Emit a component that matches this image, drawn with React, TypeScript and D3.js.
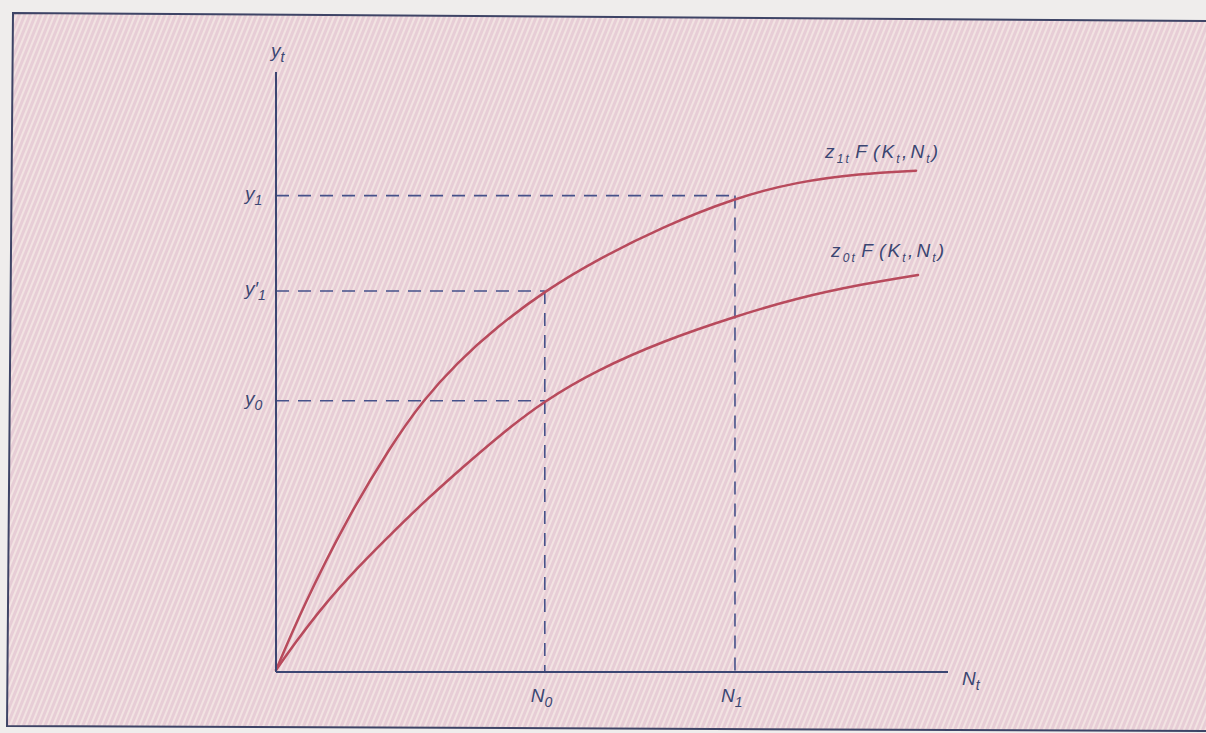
import React from "react";
import * as d3 from "d3";

// Output y_t against labour N_t, in arbitrary units
const upperCurve: [number, number][] = [
  [0, 0.33], [4.02, 10.92], [10.57, 25.58], [16.96, 37.48], [21.88, 45.3],
  [26.93, 51.53], [32.89, 57.53], [40.03, 63.53], [47.77, 68.72], [57.59, 74.22],
  [68.3, 79.02], [77.53, 81.7], [86.9, 83.07], [95.24, 83.55],
];
const lowerCurve: [number, number][] = [
  [0, 0.33], [2.83, 4.83], [7.0, 11.0], [12.05, 17.33], [16.96, 22.83], [22.47, 28.83],
  [27.83, 34.17], [33.33, 39.5], [39.88, 45.17], [47.77, 50.33], [57.59, 55.17],
  [68.3, 59.25], [77.53, 62.33], [87.35, 64.67], [95.54, 66.17],
];

// Reference levels marked on the axes
const N0 = 40;
const N1 = 68.3;
const Y0 = 45.2;
const Y1P = 63.5;
const Y1 = 79.4;

const W = 1206;
const H = 733;

const x = d3.scaleLinear().domain([0, 100]).range([276, 948]);
const y = d3.scaleLinear().domain([0, 100]).range([672, 72]);

const line = d3
  .line<[number, number]>()
  .x((d) => x(d[0]))
  .y((d) => y(d[1]))
  .curve(d3.curveBasis);

const INK = "#3b4672";
const CURVE = "#b84a5c";
const DASH = "#46528a";
const FONT = "'Liberation Sans', Arial, sans-serif";

function Sym({ base, sub, x: tx, y: ty }: { base: string; sub?: string; x: number; y: number }) {
  return (
    <text x={tx} y={ty} fontFamily={FONT} fontStyle="italic" fontSize={19} fill={INK}>
      {base}
      {sub ? (
        <tspan dy={5} fontSize={14}>{sub}</tspan>
      ) : null}
    </text>
  );
}

function FuncLabel({ tx, ty, idx }: { tx: number; ty: number; idx: string }) {
  return (
    <text x={tx} y={ty} fontFamily={FONT} fontStyle="italic" fontSize={19} fill={INK} letterSpacing={2.2}>
      z<tspan dy={5} fontSize={12}>{idx}t</tspan>
      <tspan dy={-5} dx={4}>F</tspan>
      <tspan dx={4}>(K</tspan>
      <tspan dy={5} fontSize={12}>t</tspan>
      <tspan dy={-5}>,</tspan>
      <tspan dx={1}>N</tspan>
      <tspan dy={5} fontSize={12}>t</tspan>
      <tspan dy={-5}>)</tspan>
    </text>
  );
}

export default function App() {
  const yLevels = [
    { v: Y1, to: N1, base: "y", sub: "1" },
    { v: Y1P, to: N0, base: "y\u2032", sub: "1" },
    { v: Y0, to: N0, base: "y", sub: "0" },
  ];
  const xLevels = [
    { v: N0, from: Y1P, sub: "0" },
    { v: N1, from: Y1, sub: "1" },
  ];
  return (
    <svg width={W} height={H} style={{ position: "absolute", left: 0, top: 0, display: "block" }}>
      <defs>
        <pattern id="weave" width={5} height={10} patternUnits="userSpaceOnUse" patternTransform="rotate(22)">
          <rect width={5} height={10} fill="#e7cdd6" />
          <rect width={2} height={10} fill="#f2e3e2" />
        </pattern>
      </defs>
      <rect width={W} height={H} fill="#efedec" />
      <polygon points="13,13 1212,21 1212,731 7,726" fill="url(#weave)" stroke="#3e4466" strokeWidth={2} />

      {/* dashed guides */}
      {yLevels.map((l, i) => (
        <line key={"h" + i} x1={x(0)} x2={x(l.to)} y1={y(l.v)} y2={y(l.v)} stroke={DASH} strokeWidth={1.6} strokeDasharray="13 9" />
      ))}
      {xLevels.map((l, i) => (
        <line key={"v" + i} x1={x(l.v)} x2={x(l.v)} y1={y(l.from)} y2={y(0)} stroke={DASH} strokeWidth={1.6} strokeDasharray="13 9" />
      ))}

      {/* production functions */}
      <path d={line(upperCurve) ?? ""} fill="none" stroke={CURVE} strokeWidth={2.5} strokeLinecap="round" />
      <path d={line(lowerCurve) ?? ""} fill="none" stroke={CURVE} strokeWidth={2.5} strokeLinecap="round" />

      {/* axes */}
      <line x1={x(0)} x2={x(0)} y1={y(0)} y2={y(100)} stroke={INK} strokeWidth={2} />
      <line x1={x(0)} x2={x(100)} y1={y(0)} y2={y(0)} stroke={INK} strokeWidth={2} />

      {/* axis labels */}
      <Sym base="y" sub="t" x={x(0) - 5} y={y(100) - 15} />
      <Sym base="N" sub="t" x={x(100) + 14} y={y(0) + 13} />
      {yLevels.map((l, i) => (
        <Sym key={"yl" + i} base={l.base} sub={l.sub} x={x(0) - 31} y={y(l.v) + 4} />
      ))}
      {xLevels.map((l, i) => (
        <Sym key={"xl" + i} base="N" sub={l.sub} x={x(l.v) - 14} y={y(0) + 30} />
      ))}

      {/* curve labels */}
      <FuncLabel tx={825} ty={158} idx="1" />
      <FuncLabel tx={831} ty={257} idx="0" />
    </svg>
  );
}
